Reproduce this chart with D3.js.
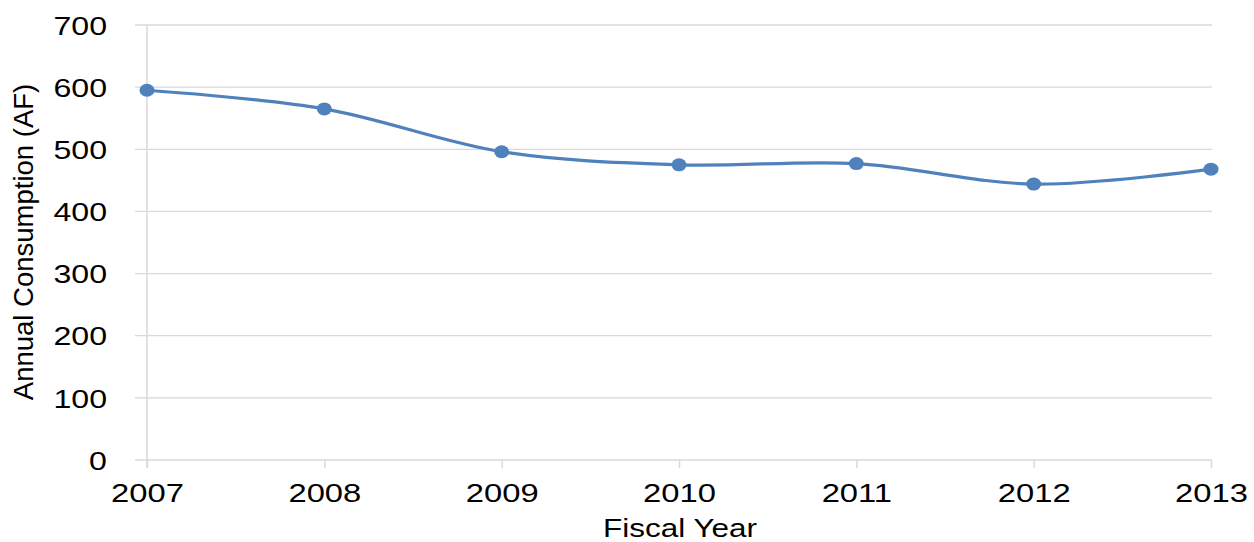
<!DOCTYPE html>
<html>
<head>
<meta charset="utf-8">
<script src="https://cdn.jsdelivr.net/npm/d3@7"></script>
<style>
  html, body { margin: 0; padding: 0; background: #fff; }
  svg { display: block; font-family: "Liberation Sans", Arial, sans-serif; }
</style>
</head>
<body>
<svg id="chart" width="1254" height="542"></svg>
<script>
// Fiscal years and annual consumption (acre-feet)
const years = ["2007", "2008", "2009", "2010", "2011", "2012", "2013"];
const consumption = [595, 565, 496, 475, 477, 444, 468];
const yTicks = [0, 100, 200, 300, 400, 500, 600, 700];

const svg = d3.select("#chart");
const gridColor = "#d9d9d9";
const lineColor = "#4f81bd";
const labelStretch = 1.26;

const x = d3.scalePoint().domain(years).range([147, 1211]);
const y = d3.scaleLinear().domain([0, 700]).range([460, 25]);

// Horizontal gridlines
svg.append("g")
  .selectAll("line")
  .data(yTicks)
  .join("line")
  .attr("x1", 135)
  .attr("x2", 1212)
  .attr("y1", d => y(d))
  .attr("y2", d => y(d))
  .attr("stroke", gridColor)
  .attr("stroke-width", 1.3);

// Vertical axis line
svg.append("line")
  .attr("x1", x(years[0])).attr("x2", x(years[0]))
  .attr("y1", y(700)).attr("y2", y(0) + 8)
  .attr("stroke", gridColor)
  .attr("stroke-width", 1.5);

// Y axis labels
const yAxis = svg.append("g")
  .attr("transform", "translate(107,0)")
  .call(d3.axisLeft(y).tickValues(yTicks).tickSize(0).tickPadding(0));
yAxis.select(".domain").remove();
yAxis.selectAll("text")
  .attr("x", null)
  .attr("dy", "0.36em")
  .attr("font-size", 25.5)
  .attr("fill", "#000")
  .attr("font-family", "Liberation Sans, Arial, sans-serif")
  .attr("transform", `scale(${labelStretch},1)`);

// X axis ticks and labels
const xAxis = svg.append("g")
  .attr("transform", `translate(0,${y(0)})`)
  .call(d3.axisBottom(x).tickSize(8).tickPadding(0));
xAxis.select(".domain").remove();
xAxis.selectAll(".tick line").attr("stroke", gridColor).attr("stroke-width", 1.5);
xAxis.selectAll("text")
  .attr("y", null)
  .attr("dy", null)
  .attr("font-size", 26)
  .attr("fill", "#000")
  .attr("font-family", "Liberation Sans, Arial, sans-serif")
  .attr("transform", `translate(0,41.5) scale(${labelStretch},1)`);

// Axis titles
svg.append("text")
  .attr("transform", `translate(680,537) scale(${labelStretch},1)`)
  .attr("text-anchor", "middle")
  .attr("font-size", 25)
  .attr("fill", "#000")
  .text("Fiscal Year");

svg.append("text")
  .attr("transform", "translate(33,242) rotate(-90)")
  .attr("text-anchor", "middle")
  .attr("font-size", 27.5)
  .attr("fill", "#000")
  .text("Annual Consumption (AF)");

// Smoothed consumption line
const line = d3.line()
  .x((d, i) => x(years[i]))
  .y(d => y(d))
  .curve(d3.curveCatmullRom.alpha(0));

svg.append("path")
  .datum(consumption)
  .attr("d", line)
  .attr("fill", "none")
  .attr("stroke", lineColor)
  .attr("stroke-width", 3.2)
  .attr("stroke-linecap", "round");

// Point markers
svg.append("g")
  .selectAll("ellipse")
  .data(consumption)
  .join("ellipse")
  .attr("cx", (d, i) => x(years[i]))
  .attr("cy", d => y(d))
  .attr("rx", 7.5)
  .attr("ry", 6.5)
  .attr("fill", lineColor);
</script>
</body>
</html>
